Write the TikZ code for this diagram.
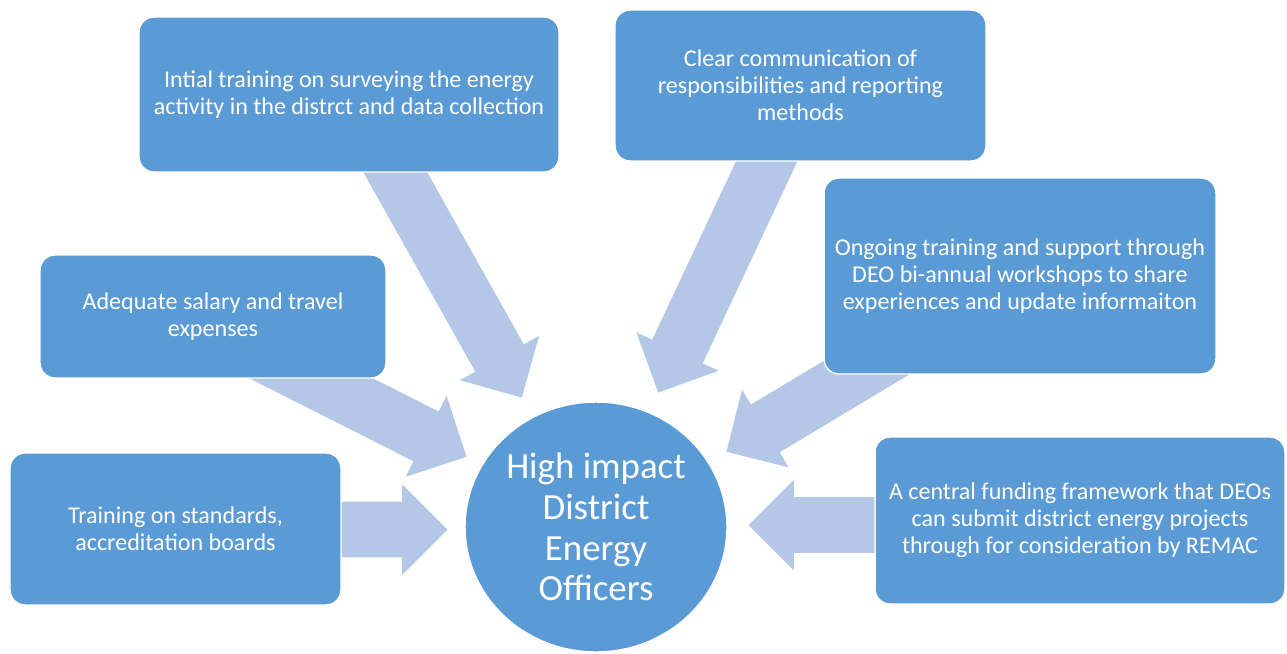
\documentclass[tikz,border=0pt]{standalone}
\usepackage{fontspec}
\setmainfont{Carlito}
\usepackage{tikz}
\usetikzlibrary{shapes.arrows, shapes.geometric, calc}

\definecolor{boxblue}{HTML}{5B9BD5}
\definecolor{flowblue}{HTML}{B4C7E7}

\tikzset{
	box/.style={rectangle, rounded corners=0.3cm, fill=boxblue, draw=white, line width=0.8pt, text=white, align=center, inner sep=0pt, font=\fontsize{13.7}{15.3}\selectfont},
	hub/.style={ellipse, fill=boxblue, draw=white, line width=0.8pt, text=white, align=center, inner sep=0pt, font=\fontsize{21}{23.2}\selectfont},
	flow/.style={single arrow, fill=flowblue, draw=none, inner xsep=0pt, inner ysep=0.55cm, minimum width=1.8cm, single arrow head extend=0.35cm, single arrow head indent=0pt}
}

% block arrow from #1 (tail) to #2 (tip)
\newcommand{\flowarrow}[2]{%
	\path let \p1=($(#2)-(#1)$), \n1={atan2(\y1,\x1)}, \n2={veclen(\x1,\y1)} in
		node[flow, rotate=\n1, minimum height=\n2, anchor=tip] at (#2) {};}

\begin{document}
\begin{tikzpicture}[x=0.02cm, y=-0.02cm]
		\useasboundingbox (0,0) rectangle (1287,653);
		% tails sit under the boxes, tips stop at the hub
		\coordinate (ta) at (380,145);
		\coordinate (ha) at (522,398);
		\coordinate (tb) at (779,135);
		\coordinate (hb) at (658,393);
		\coordinate (tc) at (936,326);
		\coordinate (hc) at (726,452);
		\coordinate (td) at (247,346);
		\coordinate (hd) at (467,457);
		\coordinate (te) at (320,529.5);
		\coordinate (he) at (448,529.5);
		\coordinate (tf) at (900,525);
		\coordinate (hf) at (748,525);
		\flowarrow{ta}{ha}
		\flowarrow{tb}{hb}
		\flowarrow{tc}{hc}
		\flowarrow{td}{hd}
		\flowarrow{te}{he}
		\flowarrow{tf}{hf}
		\node[box, minimum width=8.4cm, minimum height=3.1cm] (train) at (349,94.5) {Intial training on surveying the energy\\activity in the distrct and data collection};
		\node[box, minimum width=7.42cm, minimum height=3.02cm] (comms) at (800.5,85.5) {Clear communication of\\responsibilities and reporting\\methods};
		\node[box, minimum width=7.84cm, minimum height=3.92cm] (support) at (1020,276) {Ongoing training and support through\\DEO bi-annual workshops to share\\experiences and update informaiton};
		\node[box, minimum width=6.92cm, minimum height=2.46cm] (salary) at (213,316.5) {Adequate salary and travel\\expenses};
		\node[box, minimum width=6.62cm, minimum height=3.04cm] (standards) at (175.5,529) {Training on standards,\\accreditation boards};
		\node[box, minimum width=8.2cm, minimum height=3.34cm] (funding) at (1080,520.5) {A central funding framework that DEOs\\can submit district energy projects\\through for consideration by REMAC};
		\node[hub, minimum width=5.24cm, minimum height=5cm] (deo) at (596,527) {High impact\\District\\Energy\\Officers};
\end{tikzpicture}
\end{document}
